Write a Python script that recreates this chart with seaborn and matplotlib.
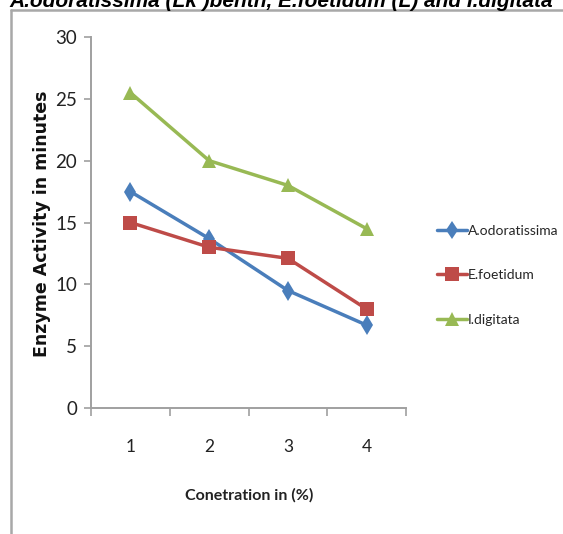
import numpy as np
import pandas as pd
import seaborn as sns
import matplotlib.pyplot as plt
from matplotlib.lines import Line2D
from matplotlib.ticker import FixedLocator

sns.set_style('white')
plt.rcParams['font.family'] = ['Lato', 'DejaVu Sans']

conc = [1, 2, 3, 4]
odoratissima = [17.5, 13.7, 9.5, 6.7]
foetidum = [15.0, 13.0, 12.1, 8.0]
digitata = [25.5, 20.0, 18.0, 14.5]
species = ['A.odoratissima', 'E.foetidum', 'I.digitata']
colours = ['#4a7ebb', '#be4b48', '#98b954']

df = pd.DataFrame({
    'conc': conc * 3,
    'activity': odoratissima + foetidum + digitata,
    'species': np.repeat(species, len(conc)),
})

fig = plt.figure(figsize=(5.63, 5.34), dpi=100)
ax = fig.add_axes([91/563, 1 - 408/534, (406 - 91)/563, (408 - 37)/534])

sns.lineplot(data=df, x='conc', y='activity', hue='species', style='species',
             markers=['d', 's', '^'], dashes=False, palette=colours,
             linewidth=2.5, markersize=10.5, markeredgewidth=0, ax=ax)

ax.set_xlim(0.5, 4.5)
ax.set_ylim(0, 30)
ax.set_yticks(range(0, 31, 5))
ax.xaxis.set_major_locator(FixedLocator(conc))
ax.set_xticklabels([str(c) for c in conc])
ax.xaxis.set_minor_locator(FixedLocator([0.5, 1.5, 2.5, 3.5, 4.5]))
ax.tick_params(axis='x', which='major', length=0, pad=22, labelsize=12.5, colors='#222222')
ax.tick_params(axis='x', which='minor', length=6, width=1.2, color='#a0a0a0', direction='out', bottom=True)
ax.tick_params(axis='y', length=5, width=1.2, color='#a0a0a0', direction='out', left=True,
               pad=5, labelsize=13.5, labelcolor='#222222')
for s in ['top', 'right']:
    ax.spines[s].set_visible(False)
for s in ['left', 'bottom']:
    ax.spines[s].set_color('#a0a0a0')
    ax.spines[s].set_linewidth(1.4)

ax.set_xlabel('')
ax.set_ylabel('')
fig.text(249/563, 1 - 495/534, 'Conetration in (%)', ha='center', va='center',
         fontsize=11.5, fontweight='bold', color='#222222')
fig.text(42/563, 1 - 224/534, 'Enzyme Activity in minutes', ha='center', va='center',
         rotation=90, fontsize=12.5, fontweight='bold', family='DejaVu Sans', color='#111111')

handles, labels = ax.get_legend_handles_labels()
ax.legend(handles, labels, loc='upper left', bbox_to_anchor=(431/563, 1 - 219/534),
          bbox_transform=fig.transFigure, frameon=False, fontsize=10,
          handlelength=2.2, handletextpad=0.05, labelspacing=2.35, borderaxespad=0,
          markerscale=0.9)

# chart frame (partly cut off in the original)
fig.add_artist(Line2D([11/563, 11/563], [0, 1 - 10/534], transform=fig.transFigure,
                      color='#a8a8a8', lw=1.8))
fig.add_artist(Line2D([11/563, 1], [1 - 10/534, 1 - 10/534], transform=fig.transFigure,
                      color='#a8a8a8', lw=1.8))
fig.text(0.5, 1 - 7/534, 'A.odoratissima (Lk )benth, E.foetidum (L) and I.digitata',
         ha='center', va='baseline', fontsize=15, fontweight='bold', style='italic',
         family='Liberation Sans', color='#000000')

fig.savefig('out.png', dpi=100)
